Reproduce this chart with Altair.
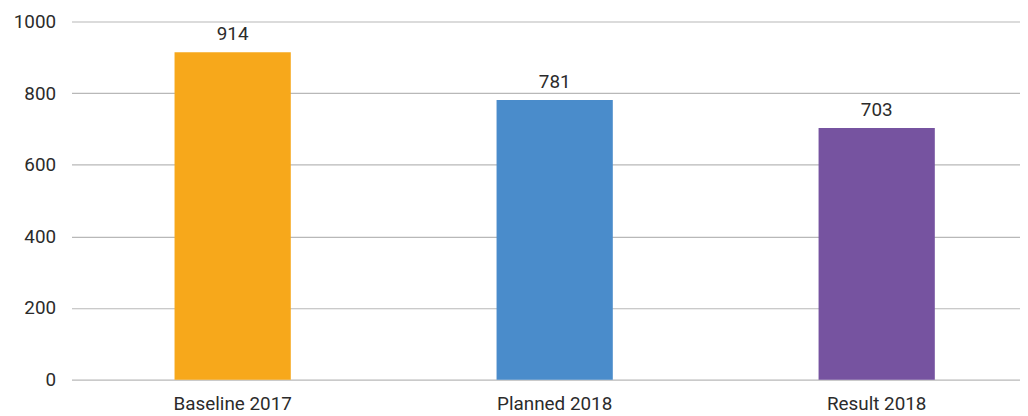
import altair as alt
import pandas as pd

categories = ["Baseline 2017", "Planned 2018", "Result 2018"]
values = [914, 781, 703]
colors = ["#F7A81B", "#4A8CCB", "#7653A0"]

df = pd.DataFrame({"cat": categories, "val": values})

FONT = "Roboto"
FS = 19

x = alt.X("cat:N", sort=categories, title=None,
          scale=alt.Scale(range=[0, 974], paddingInner=0.639, paddingOuter=0.32),
          axis=alt.Axis(labelAngle=0, labelFontSize=FS, labelFont=FONT, labelColor="#2b2b2b",
                        domain=False, ticks=False, labelPadding=15, grid=False))
y = alt.Y("val:Q", title=None,
          scale=alt.Scale(domain=[0, 1000], nice=False),
          axis=alt.Axis(values=[0, 200, 400, 600, 800, 1000], format="d", labelFontSize=FS, labelFont=FONT,
                        labelColor="#2b2b2b", domain=False, ticks=False, labelPadding=16,
                        gridColor="#b8b8b8", gridWidth=1.2))

bars = alt.Chart(df).mark_bar().encode(
    x=x, y=y,
    color=alt.Color("cat:N", scale=alt.Scale(domain=categories, range=colors), legend=None),
)
labels = alt.Chart(df).mark_text(baseline="bottom", dy=-8, fontSize=FS, font=FONT, color="#2b2b2b").encode(
    x=alt.X("cat:N", sort=categories), y="val:Q", text="val:Q"
)

chart = (bars + labels).properties(
    width=956, height=361,
    autosize=alt.AutoSizeParams(type="none"),
    padding={"left": 64, "top": 12, "right": 0, "bottom": 35},
).configure_view(stroke=None)

chart.save("out.html", embed_options={"renderer": "svg", "actions": False})
